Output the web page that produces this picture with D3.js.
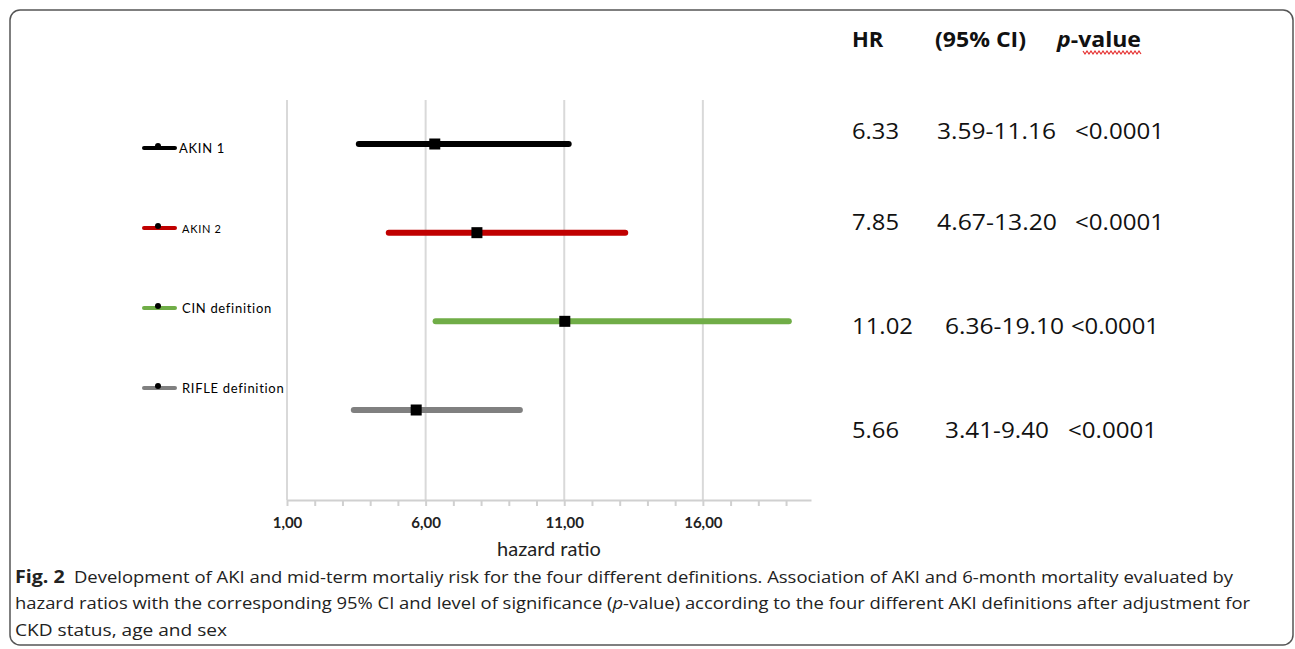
<!DOCTYPE html>
<html>
<head>
<meta charset="utf-8">
<style>
    body{ margin:0; background:#fff; }
    .grid line{ stroke:#d9d9d9; stroke-width:2; }
    .axis text{ font-family:Lato, sans-serif; font-weight:bold; font-size:15px; fill:#222; }
    .axis path, .axis line{ stroke:#d0d0d0; stroke-width:2; }
    .ci{ stroke-width:6; stroke-linecap:round; }
    .legtext{ font-family:Lato, sans-serif; fill:#000; }
    .tbl{ font-family:"Open Sans", sans-serif; font-size:22px; fill:#111; }
    .cap{ font-family:"Open Sans", sans-serif; font-size:16px; fill:#222; }
</style>
</head>
<body>
<script src="https://cdn.jsdelivr.net/npm/d3@7"></script>
<script>
var width = 1295, height = 649;

// data
var groups  = ["AKIN 1", "AKIN 2", "CIN definition", "RIFLE definition"];
var hr      = [6.33, 7.85, 11.02, 5.66];
var ciLow   = [3.59, 4.67, 6.36, 3.41];
var ciHigh  = [11.16, 13.20, 19.10, 9.40];
var pValues = ["<0.0001", "<0.0001", "<0.0001", "<0.0001"];
var colors  = ["#000000", "#c00000", "#70ad47", "#808080"];
var majorTicks = [1, 6, 11, 16];
var legendFont = [13, 11, 13, 13];

var svg = d3.select("body").append("svg")
            .attr("width", width)
            .attr("height", height);

// outer frame
svg.append("rect")
   .attr("x", 10).attr("y", 10)
   .attr("width", 1283).attr("height", 635)
   .attr("rx", 10)
   .attr("fill", "none")
   .attr("stroke", "#555")
   .attr("stroke-width", 1.5);

var x = d3.scaleLinear().domain([1, 19.9]).range([287, 811]);
var y = d3.scalePoint().domain(groups).range([144, 410]);
var yLeg = d3.scalePoint().domain(groups).range([148, 388]);

// vertical gridlines
svg.append("g").attr("class", "grid")
   .selectAll("line").data(majorTicks).enter().append("line")
   .attr("x1", d => x(d)).attr("x2", d => x(d))
   .attr("y1", 100).attr("y2", 500);

// axis with minor ticks
var axisG = svg.append("g").attr("class", "axis")
   .attr("transform", "translate(0,500)");
axisG.call(d3.axisBottom(x).tickValues(d3.range(1, 20)).tickSize(6).tickSizeOuter(0).tickFormat(""));
axisG.selectAll(".tick")
   .filter(d => majorTicks.indexOf(d) >= 0)
   .append("text")
   .attr("y", 28)
   .attr("text-anchor", "middle")
   .text(d => d.toFixed(2).replace(".", ","));

svg.append("text")
   .attr("x", 549).attr("y", 556)
   .attr("text-anchor", "middle")
   .style("font-family", "Lato, sans-serif")
   .style("font-size", "20px")
   .style("fill", "#222")
   .text("hazard ratio");

// CI bars + point estimate
var rows = svg.append("g").selectAll("g").data(groups).enter().append("g");
rows.append("line").attr("class", "ci")
    .attr("x1", (d, i) => x(ciLow[i]))
    .attr("x2", (d, i) => x(ciHigh[i]))
    .attr("y1", d => y(d)).attr("y2", d => y(d))
    .attr("stroke", (d, i) => colors[i]);
rows.append("rect")
    .attr("x", (d, i) => x(hr[i]) - 5.5)
    .attr("y", d => y(d) - 5.5)
    .attr("width", 11).attr("height", 11)
    .attr("fill", "#000");

// legend
var leg = svg.append("g").selectAll("g").data(groups).enter().append("g");
leg.append("line")
   .attr("x1", 144).attr("x2", 175)
   .attr("y1", d => yLeg(d)).attr("y2", d => yLeg(d))
   .attr("stroke", (d, i) => colors[i])
   .attr("stroke-width", 4)
   .attr("stroke-linecap", "round");
leg.append("circle")
   .attr("cx", 158).attr("cy", d => yLeg(d) - 2)
   .attr("r", 3).attr("fill", "#000");
leg.append("text").attr("class", "legtext")
   .attr("x", (d, i) => i == 0 ? 179 : 182)
   .attr("y", d => yLeg(d) + 5)
   .style("font-size", (d, i) => legendFont[i] + "px")
   .style("letter-spacing", "0.7px")
   .text(d => d);

// right-hand table
var tableRowY = [131, 222, 326, 430];
var hrW = [47, 47, 61, 47];
var ciX = [937, 937, 945, 945], ciW = [119, 120, 119, 104];
var pX = [1075, 1075, 1071, 1068], pW = [89, 89, 88, 89];

var head = svg.append("g").style("font-family", "'Open Sans', sans-serif")
              .style("font-size", "22px").style("font-weight", "bold").style("fill", "#111");
head.append("text").attr("x", 852).attr("y", 47).text("HR");
head.append("text").attr("x", 935).attr("y", 47)
    .attr("textLength", 91).attr("lengthAdjust", "spacingAndGlyphs").text("(95% CI)");
var pv = head.append("text").attr("x", 1057).attr("y", 47)
    .attr("textLength", 84).attr("lengthAdjust", "spacingAndGlyphs");
pv.append("tspan").style("font-style", "italic").text("p");
pv.append("tspan").text("-value");

// red squiggle under "value"
var sq = [];
for (var k = 0; k <= 29; k++) sq.push([1083 + k * 2, k % 2 ? 54 : 51]);
svg.append("path").attr("d", d3.line()(sq))
   .attr("fill", "none").attr("stroke", "#e53030").attr("stroke-width", 1.2);

var tbl = svg.append("g").selectAll("g").data(groups).enter().append("g");
tbl.append("text").attr("class", "tbl")
   .attr("x", 852).attr("y", (d, i) => tableRowY[i] + 8)
   .attr("textLength", (d, i) => hrW[i]).attr("lengthAdjust", "spacingAndGlyphs")
   .text((d, i) => hr[i].toFixed(2));
tbl.append("text").attr("class", "tbl")
   .attr("x", (d, i) => ciX[i]).attr("y", (d, i) => tableRowY[i] + 8)
   .attr("textLength", (d, i) => ciW[i]).attr("lengthAdjust", "spacingAndGlyphs")
   .text((d, i) => ciLow[i].toFixed(2) + "-" + ciHigh[i].toFixed(2));
tbl.append("text").attr("class", "tbl")
   .attr("x", (d, i) => pX[i]).attr("y", (d, i) => tableRowY[i] + 8)
   .attr("textLength", (d, i) => pW[i]).attr("lengthAdjust", "spacingAndGlyphs")
   .text((d, i) => pValues[i]);

// caption
var capLines = [
    "Development of AKI and mid-term mortaliy risk for the four different definitions. Association of AKI and 6-month mortality evaluated by",
    "hazard ratios with the corresponding 95% CI and level of significance (",
    "CKD status, age and sex"
];
var cap = svg.append("g");
var l1 = cap.append("text").attr("class", "cap").attr("x", 15).attr("y", 583)
            .attr("textLength", 1218).attr("lengthAdjust", "spacingAndGlyphs");
l1.append("tspan").style("font-weight", "bold").style("font-size", "17px").text("Fig. 2");
l1.append("tspan").attr("dx", 8).text(capLines[0]);
var l2 = cap.append("text").attr("class", "cap").attr("x", 15).attr("y", 609)
            .attr("textLength", 1235).attr("lengthAdjust", "spacingAndGlyphs");
l2.append("tspan").text(capLines[1]);
l2.append("tspan").style("font-style", "italic").text("p");
l2.append("tspan").text("-value) according to the four different AKI definitions after adjustment for");
cap.append("text").attr("class", "cap").attr("x", 15).attr("y", 636)
   .attr("textLength", 212).attr("lengthAdjust", "spacingAndGlyphs")
   .text(capLines[2]);
</script>
</body>
</html>
